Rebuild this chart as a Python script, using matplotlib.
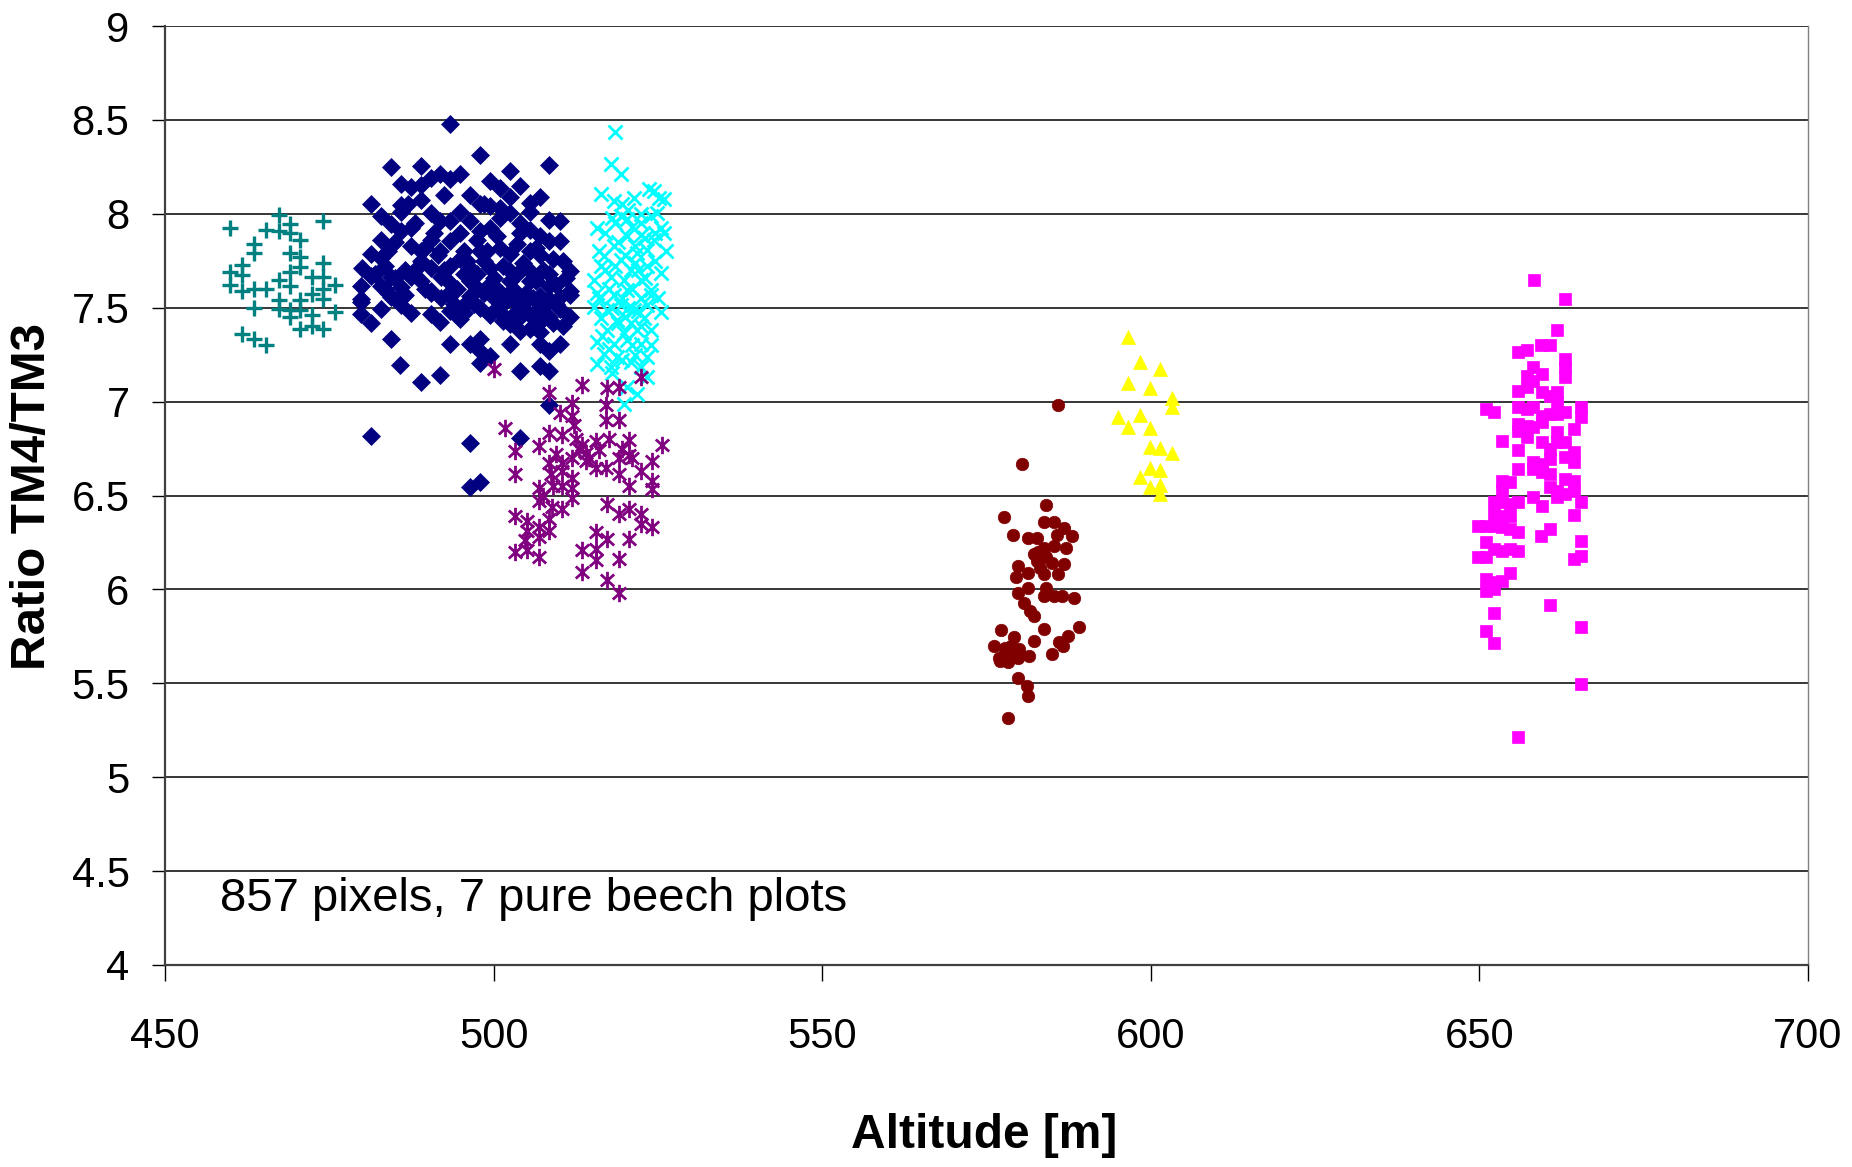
import matplotlib
matplotlib.use("Agg")
import matplotlib.pyplot as plt
from matplotlib.path import Path

plt.rcParams["font.family"] = ["Liberation Sans", "DejaVu Sans"]

# plot 1 - navy diamonds
navy_x = [493.4, 497.9, 508.5, 484.4, 488.9, 502.5, 491.9, 490.4, 493.4, 494.9, 499.5, 485.9, 487.4, 488.9,
          500.9, 504.0, 496.4, 502.5, 507.0, 481.4, 488.9, 485.9, 485.9, 497.9, 499.5, 500.9, 505.5, 505.5,
          490.5, 494.9, 482.9, 484.4, 491.9, 493.4, 496.4, 502.5, 508.5, 510.1, 485.9, 487.4, 482.9, 487.4,
          490.4, 493.4, 494.9, 497.9, 499.5, 504.0, 505.5, 507.0, 508.5, 510.1, 481.4, 482.9, 488.9, 491.9,
          494.9, 497.9, 500.9, 502.5, 505.5, 479.9, 481.4, 484.4, 487.4, 490.4, 493.4, 496.4, 499.5, 502.5,
          505.5, 508.5, 511.6, 479.8, 482.9, 485.9, 488.9, 492.0, 496.4, 499.5, 502.5, 505.5, 508.5, 511.6,
          479.8, 484.4, 490.5, 493.4, 496.4, 500.9, 504.0, 507.0, 510.1,
          479.8, 484.0, 485.8, 490.4, 493.4, 496.4, 499.5, 500.9, 502.5, 505.5, 508.5, 511.6,
          479.8, 481.4, 482.9, 485.9, 487.4, 490.4, 491.9, 493.4, 494.9, 499.5, 500.9, 502.5, 504.0, 505.5,
          507.0, 508.5, 510.1, 511.6,
          484.4, 493.4, 496.4, 497.9, 497.9, 499.5, 502.5, 504.0, 505.5, 507.0, 508.5, 510.1, 507.0,
          485.8, 488.9, 491.9, 497.9, 504.0, 507.0, 508.5,
          508.5, 481.4, 496.4, 504.0, 496.4, 497.9,
          495.5, 497.0, 498.5, 500.0, 501.5, 503.0, 504.5, 506.0, 507.5, 509.0, 500.5, 503.5, 506.5, 509.5,
          498.0, 495.0, 492.0, 489.5, 486.5, 483.5, 506.5, 503.5, 500.5, 497.5, 491.0, 488.0, 485.0, 489.0,
          492.5, 495.5,
          491.5, 493.0, 494.5, 496.0, 497.5, 499.0, 500.5, 502.0, 503.5, 505.0, 506.5, 508.0, 509.5, 511.0,
          510.5, 509.0, 507.5, 506.0, 504.5, 503.0, 501.5, 500.0, 498.5, 497.0, 495.5, 494.0, 482.0, 483.5,
          485.0, 486.5, 488.0, 489.5, 501.0, 504.0, 507.0, 510.5, 498.5, 492.5, 487.0, 484.0]
navy_y = [8.477, 8.314, 8.261, 8.249, 8.253, 8.228, 8.214, 8.191, 8.188, 8.214, 8.175, 8.161, 8.144, 8.153,
          8.135, 8.149, 8.100, 8.091, 8.088, 8.051, 8.074, 8.047, 8.012, 8.051, 8.039, 8.030, 8.056, 8.012,
          8.004, 8.012, 7.986, 7.947, 7.960, 7.960, 7.960, 8.004, 7.968, 7.960, 7.907, 7.925, 7.863, 7.828,
          7.863, 7.854, 7.898, 7.907, 7.925, 7.898, 7.916, 7.881, 7.854, 7.854, 7.784, 7.767, 7.802, 7.802,
          7.758, 7.802, 7.819, 7.784, 7.802, 7.714, 7.670, 7.661, 7.661, 7.714, 7.723, 7.714, 7.714, 7.696,
          7.696, 7.679, 7.696, 7.618, 7.618, 7.609, 7.644, 7.661, 7.644, 7.626, 7.644, 7.644, 7.618, 7.591,
          7.547, 7.556, 7.591, 7.582, 7.565, 7.565, 7.547, 7.565, 7.556,
          7.531, 7.576, 7.558, 7.579, 7.567, 7.549, 7.576, 7.522, 7.576, 7.558, 7.549, 7.567,
          7.464, 7.417, 7.495, 7.513, 7.471, 7.464, 7.423, 7.482, 7.441, 7.459, 7.477, 7.414, 7.450, 7.459,
          7.423, 7.450, 7.495, 7.450,
          7.333, 7.309, 7.309, 7.333, 7.270, 7.243, 7.309, 7.378, 7.387, 7.306, 7.270, 7.309, 7.369,
          7.194, 7.104, 7.140, 7.207, 7.165, 7.189, 7.165,
          6.982, 6.817, 6.781, 6.806, 6.547, 6.572,
          7.680, 7.620, 7.750, 7.660, 7.720, 7.600, 7.740, 7.550, 7.700, 7.760, 7.500, 7.520, 7.480, 7.520,
          7.500, 7.500, 7.550, 7.600, 7.700, 7.720, 7.820, 7.840, 7.880, 7.860, 7.900, 7.950, 7.850, 7.750,
          7.700, 7.800,
          7.780, 7.640, 7.600, 7.750, 7.680, 7.800, 7.600, 7.540, 7.680, 7.580, 7.640, 7.520, 7.620, 7.660,
          7.400, 7.420, 7.470, 7.400, 7.500, 7.460, 7.430, 7.550, 7.580, 7.520, 7.470, 7.520, 7.680, 7.600,
          7.660, 7.570, 7.700, 7.820, 7.980, 7.950, 7.780, 7.750, 8.050, 8.100, 8.050, 7.800]

# plot 2 - magenta squares
magenta_x = [658.26, 663.09, 661.87, 655.93, 657.2, 659.38, 660.75, 663.09, 663.09, 663.09, 658.21, 657.2,
             659.48, 655.93, 657.2, 658.21, 659.48, 660.75, 661.87, 661.87, 651.0, 652.27, 655.93, 657.2,
             658.21, 659.48, 660.75, 661.87, 663.09, 665.48, 665.48, 655.93, 657.2, 658.21, 659.48, 661.87,
             664.36, 653.39, 655.93, 657.2, 659.48, 660.75, 661.87, 663.09, 664.36, 655.93, 658.21, 659.48,
             660.75, 663.09, 664.36, 655.93, 658.21, 659.48, 660.75, 663.09, 664.36, 653.39, 654.66, 660.75,
             661.87, 663.09, 664.36, 653.39, 652.27, 653.39, 654.66, 655.93, 658.21, 659.48, 661.87, 665.48,
             664.36, 652.27, 653.39, 654.66, 649.83, 651.0, 652.27, 653.39, 654.66, 655.93, 659.38, 660.75,
             665.48, 651.0, 652.27, 653.39, 654.66, 655.93, 649.83, 651.0, 664.36, 665.48, 654.66, 651.0,
             652.27, 653.39, 651.0, 652.27, 660.75, 652.27, 651.0, 665.48, 652.27, 665.48, 655.93]
magenta_y = [7.646, 7.544, 7.379, 7.264, 7.276, 7.299, 7.299, 7.228, 7.184, 7.130, 7.184, 7.139,
             7.148, 7.059, 7.077, 7.112, 7.050, 7.032, 7.050, 6.997, 6.961, 6.944, 6.970, 6.961,
             6.970, 6.926, 6.935, 6.935, 6.944, 6.970, 6.917, 6.881, 6.872, 6.864, 6.890, 6.837,
             6.855, 6.792, 6.846, 6.810, 6.784, 6.748, 6.784, 6.784, 6.730, 6.743, 6.677, 6.668,
             6.695, 6.704, 6.677, 6.641, 6.641, 6.624, 6.615, 6.588, 6.579, 6.576, 6.570, 6.544,
             6.526, 6.508, 6.526, 6.526, 6.464, 6.464, 6.455, 6.464, 6.490, 6.446, 6.490, 6.464,
             6.398, 6.401, 6.392, 6.392, 6.336, 6.336, 6.336, 6.330, 6.321, 6.304, 6.286, 6.321,
             6.259, 6.250, 6.215, 6.206, 6.215, 6.206, 6.170, 6.170, 6.161, 6.179, 6.090, 6.055,
             6.037, 6.046, 5.992, 6.001, 5.916, 5.877, 5.776, 5.800, 5.712, 5.495, 5.214]

# plot 3 - yellow triangles
yellow_x = [596.6, 598.38, 601.43, 596.6, 599.91, 603.26, 603.26, 595.08, 598.38, 596.6, 599.91, 599.91,
            601.43, 603.26, 599.91, 601.43, 598.38, 599.91, 601.43, 601.43]
yellow_y = [7.342, 7.213, 7.176, 7.099, 7.073, 7.020, 6.970, 6.918, 6.930, 6.867, 6.858, 6.760,
            6.751, 6.724, 6.649, 6.634, 6.599, 6.545, 6.554, 6.509]

# plot 4 - cyan crosses
cyan_x = [518.4, 517.89, 519.42, 516.27, 523.63, 524.4, 518.3, 519.57, 521.35, 525.16, 525.92, 515.76,
          519.32, 520.33, 523.89, 524.9, 522.36, 525.41, 520.33, 522.36, 524.4, 525.92, 518.3, 516.78,
          516.27, 519.32, 521.86, 523.38, 526.17, 520.84, 523.38, 525.41, 515.25, 517.79, 519.82, 522.36,
          523.89, 515.76, 518.3, 520.33, 522.36, 515.25, 517.28, 519.32, 521.35, 523.38, 525.41, 516.27,
          518.81, 520.84, 522.87, 517.28, 519.82, 521.86, 523.89, 515.76, 518.3, 520.33, 522.36, 523.89,
          516.78, 518.81, 520.84, 523.38, 515.76, 517.79, 522.36, 523.38, 520.33, 521.86, 519.82,
          517.0, 518.5, 521.0, 519.0, 521.5, 523.0, 517.5, 519.5, 521.0, 522.0, 524.5, 525.0, 516.5,
          518.0, 520.0, 522.5, 518.0, 521.0,
          516.0, 517.0, 518.5, 520.0, 521.5, 523.0, 524.5, 520.5, 522.0, 519.0, 517.5, 519.5, 521.5,
          516.0, 524.0, 522.5, 520.5, 518.0]
cyan_y = [8.434, 8.264, 8.211, 8.104, 8.130, 8.121, 8.068, 8.050, 8.086, 8.086, 8.077, 7.925,
          7.988, 7.970, 7.988, 8.005, 7.952, 7.925, 7.880, 7.889, 7.862, 7.898, 7.827, 7.773,
          7.720, 7.755, 7.791, 7.809, 7.800, 7.702, 7.720, 7.684, 7.648, 7.666, 7.648, 7.648,
          7.595, 7.577, 7.568, 7.595, 7.550, 7.505, 7.488, 7.514, 7.488, 7.514, 7.479, 7.443,
          7.434, 7.416, 7.443, 7.380, 7.363, 7.380, 7.380, 7.318, 7.309, 7.327, 7.309, 7.300,
          7.255, 7.238, 7.211, 7.238, 7.202, 7.184, 7.184, 7.130, 7.077, 7.041, 6.988,
          7.90, 7.95, 7.93, 7.85, 7.83, 7.87, 7.60, 7.55, 7.60, 7.70, 7.75, 7.55, 7.35,
          7.50, 7.45, 7.40, 7.15, 7.30,
          7.80, 7.70, 7.72, 7.78, 7.74, 7.66, 7.90, 7.50, 7.48, 7.42, 7.28, 7.22, 7.25,
          7.55, 7.57, 8.00, 8.02, 7.98]

# plot 5 - purple asterisks
purple_x = [500.02, 522.37, 513.48, 508.4, 517.29, 519.07, 511.96, 510.18, 511.96, 517.04, 501.8, 517.04,
            512.21, 519.07, 508.4, 510.43, 506.88, 503.32, 513.48, 515.51, 513.99, 520.59, 525.67, 511.96,
            508.4, 510.43, 513.99, 515.51, 519.07, 520.59, 524.15, 503.32, 508.66, 510.43, 511.96, 517.04,
            519.07, 522.37, 506.88, 510.43, 511.96, 520.59, 524.15, 524.15, 511.96, 506.88, 508.91, 510.43,
            517.29, 503.32, 505.1, 508.4, 519.07, 520.59, 522.37, 522.37, 524.15, 505.1, 506.88, 508.4,
            515.51, 504.85, 506.88, 517.29, 520.59, 503.32, 505.1, 506.88, 513.48, 515.51, 515.51, 519.07,
            513.48, 517.29, 519.07,
            513.0, 514.5, 512.5, 509.5, 516.0, 507.5, 509.0, 517.5, 519.5, 521.0]
purple_y = [7.176, 7.132, 7.088, 7.044, 7.070, 7.079, 6.991, 6.938, 6.921, 6.982, 6.859, 6.903,
            6.877, 6.903, 6.833, 6.824, 6.762, 6.736, 6.771, 6.789, 6.727, 6.798, 6.771, 6.701,
            6.674, 6.674, 6.683, 6.648, 6.701, 6.718, 6.683, 6.613, 6.613, 6.630, 6.595, 6.648,
            6.613, 6.630, 6.542, 6.551, 6.542, 6.551, 6.577, 6.533, 6.489, 6.472, 6.437, 6.428,
            6.454, 6.393, 6.366, 6.375, 6.401, 6.428, 6.401, 6.349, 6.331, 6.313, 6.331, 6.313,
            6.305, 6.261, 6.278, 6.269, 6.269, 6.199, 6.208, 6.173, 6.208, 6.217, 6.155, 6.164,
            6.093, 6.049, 5.979,
            6.75, 6.70, 6.80, 6.72, 6.74, 6.50, 6.55, 6.80, 6.75, 6.70]

# plot 6 - dark red circles
red_x = [585.84, 580.41, 584.07, 577.61, 583.71, 585.23, 579.09, 586.76, 581.27, 582.69, 585.74, 587.98,
         583.71, 585.23, 587.11, 582.29, 582.69, 584.93, 586.76, 579.85, 583.2, 581.27, 579.49, 583.81,
         585.84, 581.27, 579.85, 584.07, 583.71, 585.23, 586.45, 588.28, 580.76, 581.68, 582.19, 589.15,
         577.2, 583.71, 579.24, 587.37, 582.19, 576.19, 577.82, 586.61, 584.93, 581.53, 576.95, 578.48,
         579.75, 577.1, 578.22, 579.75, 581.17, 581.37, 578.33,
         582.8, 584.0, 577.8, 578.8, 580.0, 586.0]
red_y = [6.982, 6.666, 6.449, 6.385, 6.361, 6.361, 6.290, 6.329, 6.275, 6.275, 6.290, 6.284,
         6.222, 6.231, 6.222, 6.186, 6.151, 6.142, 6.133, 6.124, 6.115, 6.089, 6.066, 6.083,
         6.080, 6.009, 5.982, 6.009, 5.964, 5.964, 5.964, 5.952, 5.929, 5.885, 5.858, 5.799,
         5.782, 5.787, 5.746, 5.751, 5.725, 5.698, 5.689, 5.698, 5.657, 5.645, 5.636, 5.645,
         5.636, 5.618, 5.615, 5.529, 5.485, 5.432, 5.316,
         6.20, 6.17, 5.66, 5.70, 5.68, 5.72]

# plot 7 - teal plus
teal_x = [467.3, 469.0, 474.1, 459.9, 465.4, 467.3, 469.0, 470.6, 463.5, 463.5, 469.0, 470.6, 474.1, 470.6,
          461.7, 459.9, 461.7, 469.0, 472.3, 474.1, 467.3, 459.9, 475.9, 469.0, 465.4, 463.5, 461.7, 474.1,
          472.3, 474.1, 470.6, 467.3, 463.5, 467.3, 469.0, 470.6, 472.3, 475.9, 469.0, 470.6, 472.3, 474.1,
          461.7, 463.5, 465.4]
teal_y = [7.996, 7.948, 7.964, 7.925, 7.916, 7.907, 7.898, 7.858, 7.840, 7.794, 7.790, 7.769, 7.740, 7.719,
          7.728, 7.692, 7.674, 7.692, 7.661, 7.661, 7.647, 7.620, 7.620, 7.615, 7.602, 7.597, 7.590, 7.597,
          7.575, 7.548, 7.539, 7.539, 7.500, 7.495, 7.486, 7.486, 7.459, 7.477, 7.450, 7.387, 7.405, 7.387,
          7.360, 7.333, 7.303]

y_ticks = [4, 4.5, 5, 5.5, 6, 6.5, 7, 7.5, 8, 8.5, 9]
x_ticks = [450, 500, 550, 600, 650, 700]

# excel style asterisk: an x with a vertical bar
star = Path([(-0.5, -0.45), (0.5, 0.45), (-0.5, 0.45), (0.5, -0.45), (0, -0.65), (0, 0.65)],
            [Path.MOVETO, Path.LINETO, Path.MOVETO, Path.LINETO, Path.MOVETO, Path.LINETO])

fig = plt.figure(figsize=(18.52, 11.67), dpi=100)
ax = fig.add_axes([0.0891, 0.1731, 0.8871, 0.8046])

ax.plot(navy_x, navy_y, ls="none", marker="D", ms=8.8, color="#000080", mec="#000080", mew=0.5)
ax.plot(magenta_x, magenta_y, ls="none", marker="s", ms=9, color="#FF00FF", mec="#FF00FF", mew=0.5)
ax.plot(yellow_x, yellow_y, ls="none", marker="^", ms=10.5, color="#FFFF00", mec="#FFFF00", mew=0.5)
ax.plot(cyan_x, cyan_y, ls="none", marker="x", ms=10, color="#00FFFF", mew=2)
ax.plot(purple_x, purple_y, ls="none", marker=star, ms=12.5, color="#800080", mew=2)
ax.plot(red_x, red_y, ls="none", marker="o", ms=9, color="#800000", mec="#800000", mew=0.5)
ax.plot(teal_x, teal_y, ls="none", marker="+", ms=11, color="#008080", mew=2.4)

ax.set_xlim(450, 700)
ax.set_ylim(4, 9)
ax.set_xticks(x_ticks)
ax.set_yticks(y_ticks)
ax.set_xticklabels([str(v) for v in x_ticks])
ax.set_yticklabels(["%g" % v for v in y_ticks])
ax.tick_params(axis="y", direction="out", length=9.5, width=1, pad=16, labelsize=30)
ax.tick_params(axis="x", direction="out", length=11.5, width=1, pad=26, labelsize=30)

ax.yaxis.grid(True, color="black", lw=1.1)
ax.set_axisbelow(True)
ax.spines["top"].set_visible(False)
ax.spines["right"].set_color("#808080")
ax.spines["right"].set_linewidth(1)
ax.spines["left"].set_color("#404040")
ax.spines["left"].set_linewidth(1.6)
ax.spines["bottom"].set_color("#404040")
ax.spines["bottom"].set_linewidth(1.6)

ax.text(458.4, 4.35, "857 pixels, 7 pure beech plots", fontsize=34, va="center", ha="left")

fig.text(33 / 1852, 1 - 496 / 1167, "Ratio TM4/TM3", rotation=90, fontsize=35.5, fontweight="bold",
         ha="center", va="center")
fig.text(984 / 1852, 1 - 1136 / 1167, "Altitude [m]", fontsize=34.5, fontweight="bold",
         ha="center", va="center")

fig.savefig("out.png", dpi=100)
